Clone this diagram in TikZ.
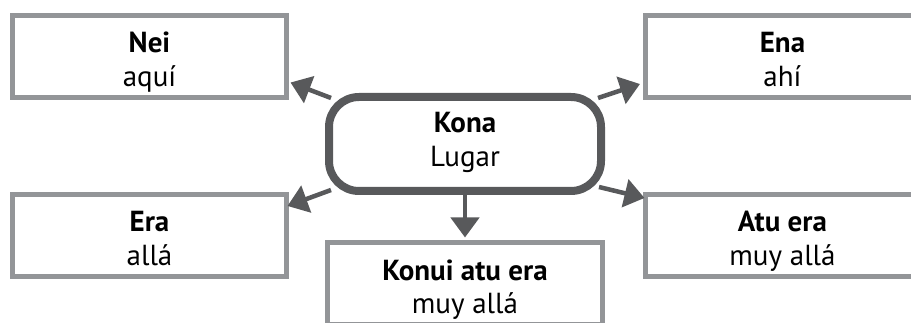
\documentclass[tikz,border=0pt]{standalone}
\usepackage{fontspec}
\setmainfont{PT Sans}
\usetikzlibrary{arrows.meta,calc}
\definecolor{boxgray}{HTML}{939598}
\definecolor{darkgray}{HTML}{58595B}
\begin{document}
\begin{tikzpicture}[x=1pt,y=-1pt,
  txt/.style={font=\fontsize{29}{34}\selectfont, align=center, inner sep=0pt, text=black},
  leaf/.style={txt, draw=boxgray, line width=5pt, fill=white, minimum width=274pt, minimum height=82pt, text height=61pt, text depth=0pt},
  hub/.style={txt, draw=darkgray, line width=8pt, fill=white, rounded corners=30pt, minimum width=272pt, minimum height=94pt, text height=46pt, text depth=0pt},
  arr/.style={draw=darkgray, line width=4.5pt, -{Triangle[length=20pt,width=28pt]}}]
\useasboundingbox (0,0) rectangle (911,323);
\clip (0,0) rectangle (911,323);
\node[leaf] (nei) at (149.5,56.5) {\textbf{Nei}\\aquí};
\node[leaf] (ena) at (782.5,56.5) {\textbf{Ena}\\ahí};
\node[leaf] (era) at (149.5,235.5) {\textbf{Era}\\allá};
\node[leaf] (atu) at (782.5,235.5) {\textbf{Atu era}\\muy allá};
\node[leaf, minimum width=275pt] (konui) at (465,283.5) {\textbf{Konui atu era}\\muy allá};
\node[hub] (kona) at (465,144) {\textbf{Kona}\\Lugar};
\draw[arr] ($(kona.north west)+(6,5)$) -- ($(nei.south east)+(1.5,-17.5)$);
\draw[arr] ($(kona.north east)+(-7,5)$) -- ($(ena.south west)+(-3,-16)$);
\draw[arr] ($(kona.south west)+(6,-5)$) -- ($(era.north east)+(-1.5,14)$);
\draw[arr] ($(kona.south east)+(-6,-8)$) -- ($(atu.north west)+(1.5,6)$);
\draw[arr] (kona.south) -- ($(konui.north)+(0,-2.5)$);
\end{tikzpicture}
\end{document}
